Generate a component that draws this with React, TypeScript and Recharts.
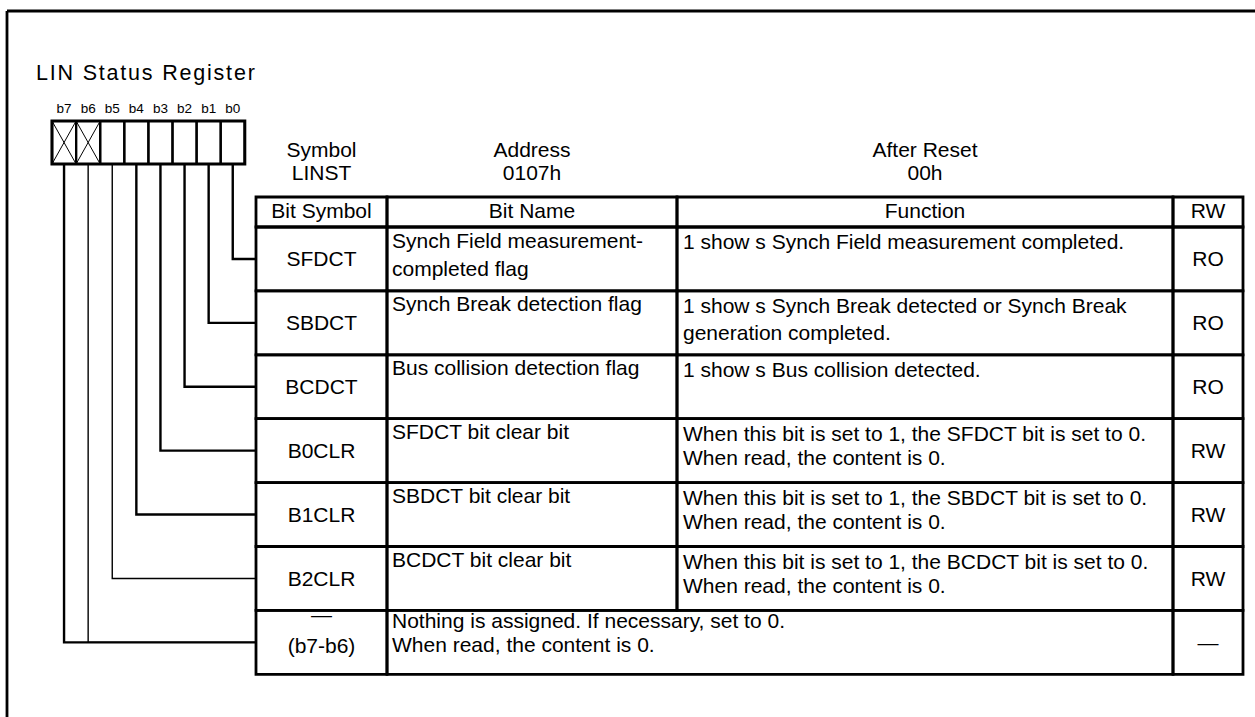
import {
  ReferenceArea,
  ReferenceLine,
  Scatter,
  ScatterChart,
  XAxis,
  YAxis,
} from "recharts";

const title = "LIN Status Register";
const bitLabels = ["b7", "b6", "b5", "b4", "b3", "b2", "b1", "b0"];
const reservedBits = ["b7", "b6"];
const headerTitles = ["Symbol", "Address", "After Reset"];
const headerValues = ["LINST", "0107h", "00h"];
const columnHeads = ["Bit Symbol", "Bit Name", "Function", "RW"];
const bitSymbols = [
  ["SFDCT"],
  ["SBDCT"],
  ["BCDCT"],
  ["B0CLR"],
  ["B1CLR"],
  ["B2CLR"],
  ["\u2014", "(b7-b6)"],
];
const bitNames = [
  ["Synch Field measurement-", "completed flag"],
  ["Synch Break detection flag"],
  ["Bus collision detection flag"],
  ["SFDCT bit clear bit"],
  ["SBDCT bit clear bit"],
  ["BCDCT bit clear bit"],
  [],
];
const functions = [
  ["1 show s Synch Field measurement completed."],
  ["1 show s Synch Break detected or Synch Break", "generation completed."],
  ["1 show s Bus collision detected."],
  ["When this bit is set to 1, the SFDCT bit is set to 0.", "When read, the content is 0."],
  ["When this bit is set to 1, the SBDCT bit is set to 0.", "When read, the content is 0."],
  ["When this bit is set to 1, the BCDCT bit is set to 0.", "When read, the content is 0."],
  ["Nothing is assigned. If necessary, set to 0.", "When read, the content is 0."],
];
const access = ["RO", "RO", "RO", "RW", "RW", "RW", "\u2014"];
const rowBits = [["b0"], ["b1"], ["b2"], ["b3"], ["b4"], ["b5"], ["b6", "b7"]];

// layout, in pixels of the picture
const W = 1255;
const H = 717;
const FONT = '"Liberation Sans", Arial, Helvetica, sans-serif';
const FRAME_LEFT = 7;
const FRAME_TOP = 11;
const BOX_LEFT = 52;
const BOX_TOP = 121;
const BOX_BOTTOM = 164;
const BOX_W = 24.1;
const COL_X = [256, 387, 677, 1173, 1243];
const TABLE_TOP = 197;
const HEAD_BOTTOM = 227;
const ROW_H = 63.9;
const BODY = 21;
const RULE = 2.8;
const thinBits = ["b6", "b5"];

const rowTop = (i: number) => HEAD_BOTTOM + i * ROW_H;
const rowMid = (i: number) => rowTop(i) + ROW_H / 2;
const colMid = (c: number) => (COL_X[c] + COL_X[c + 1]) / 2;
const bitIndex = (b: string) => bitLabels.indexOf(b);
const bitX = (b: string) => BOX_LEFT + (bitIndex(b) + 0.5) * BOX_W;

type TextItem = {
  x: number;
  y: number;
  text: string;
  anchor: "start" | "middle";
  size: number;
  spacing?: number;
};

const texts: TextItem[] = [];
texts.push({ x: 36, y: 80, text: title, anchor: "start", size: 21.5, spacing: 1.8 });
bitLabels.forEach((b) =>
  texts.push({ x: bitX(b), y: 113, text: b, anchor: "middle", size: 13.5 })
);
headerTitles.forEach((t, c) => {
  texts.push({ x: colMid(c), y: 157, text: t, anchor: "middle", size: BODY });
  texts.push({ x: colMid(c), y: 180, text: headerValues[c], anchor: "middle", size: BODY });
});
columnHeads.forEach((t, c) =>
  texts.push({ x: colMid(c), y: 218, text: t, anchor: "middle", size: BODY })
);

type Cell = { x1: number; x2: number; y1: number; y2: number };
const cells: Cell[] = columnHeads.map((_, c) => ({
  x1: COL_X[c],
  x2: COL_X[c + 1],
  y1: TABLE_TOP,
  y2: HEAD_BOTTOM,
}));

bitSymbols.forEach((sym, i) => {
  const top = rowTop(i);
  const bottom = rowTop(i + 1);
  const merged = bitNames[i].length === 0;
  const firstBase = top + (merged ? 18 : 22);
  const gap = i < 3 ? 27 : 24;

  sym.forEach((s, k) =>
    texts.push({
      x: colMid(0),
      y: sym.length === 1 ? rowMid(i) + 7.5 : top + 12 + k * 30.5,
      text: s,
      anchor: "middle",
      size: BODY,
    })
  );
  bitNames[i].forEach((s, k) =>
    texts.push({ x: COL_X[1] + 5, y: top + 20.5 + k * 28, text: s, anchor: "start", size: BODY })
  );
  const fx = merged ? COL_X[1] + 5 : COL_X[2] + 6;
  functions[i].forEach((s, k) =>
    texts.push({ x: fx, y: firstBase + k * gap, text: s, anchor: "start", size: BODY })
  );
  texts.push({ x: colMid(3), y: rowMid(i) + 7.5, text: access[i], anchor: "middle", size: BODY });

  cells.push({ x1: COL_X[0], x2: COL_X[1], y1: top, y2: bottom });
  if (merged) {
    cells.push({ x1: COL_X[1], x2: COL_X[3], y1: top, y2: bottom });
  } else {
    cells.push({ x1: COL_X[1], x2: COL_X[2], y1: top, y2: bottom });
    cells.push({ x1: COL_X[2], x2: COL_X[3], y1: top, y2: bottom });
  }
  cells.push({ x1: COL_X[3], x2: COL_X[4], y1: top, y2: bottom });
});

// leader lines: from the bit box down to the row, then across to the table
const leaders = rowBits.flatMap((bits, i) =>
  bits.map((b) => ({
    bit: b,
    points: [
      { x: bitX(b), y: BOX_BOTTOM },
      { x: bitX(b), y: rowMid(i) },
      { x: COL_X[0], y: rowMid(i) },
    ],
  }))
);

function TextMark(props: any) {
  const { cx, cy, payload } = props;
  return (
    <text
      x={cx}
      y={cy}
      textAnchor={payload.anchor}
      fontSize={payload.size}
      fontFamily={FONT}
      letterSpacing={payload.spacing ?? 0}
      fill="#000"
    >
      {payload.text}
    </text>
  );
}

const noMark = () => <g />;

export default function App() {
  return (
    <div
      style={{
        position: "absolute",
        left: 0,
        top: 0,
        width: W,
        height: H,
        background: "#fff",
        overflow: "hidden",
      }}
    >
      <ScatterChart width={W} height={H} margin={{ top: 0, right: 0, bottom: 0, left: 0 }}>
        <XAxis type="number" dataKey="x" domain={[0, W]} allowDataOverflow hide />
        <YAxis type="number" dataKey="y" domain={[0, H]} allowDataOverflow reversed hide />

        <ReferenceLine
          segment={[{ x: FRAME_LEFT, y: FRAME_TOP }, { x: W, y: FRAME_TOP }]}
          stroke="#000"
          strokeWidth={RULE}
          ifOverflow="visible"
        />
        <ReferenceLine
          segment={[{ x: FRAME_LEFT, y: FRAME_TOP }, { x: FRAME_LEFT, y: H }]}
          stroke="#000"
          strokeWidth={RULE}
          ifOverflow="visible"
        />

        {bitLabels.map((b) => (
          <ReferenceArea
            key={`box-${b}`}
            x1={BOX_LEFT + bitIndex(b) * BOX_W}
            x2={BOX_LEFT + (bitIndex(b) + 1) * BOX_W}
            y1={BOX_TOP}
            y2={BOX_BOTTOM}
            fill="none"
            fillOpacity={0}
            stroke="#000"
            strokeWidth={2.2}
            ifOverflow="visible"
          />
        ))}
        <ReferenceArea
          x1={BOX_LEFT}
          x2={BOX_LEFT + bitLabels.length * BOX_W}
          y1={BOX_TOP}
          y2={BOX_BOTTOM}
          fill="none"
          fillOpacity={0}
          stroke="#000"
          strokeWidth={3}
          ifOverflow="visible"
        />
        {reservedBits.flatMap((b) => {
          const x1 = BOX_LEFT + bitIndex(b) * BOX_W;
          const x2 = x1 + BOX_W;
          return [
            <ReferenceLine
              key={`xa-${b}`}
              segment={[{ x: x1, y: BOX_TOP }, { x: x2, y: BOX_BOTTOM }]}
              stroke="#000"
              strokeWidth={1}
              ifOverflow="visible"
            />,
            <ReferenceLine
              key={`xb-${b}`}
              segment={[{ x: x1, y: BOX_BOTTOM }, { x: x2, y: BOX_TOP }]}
              stroke="#000"
              strokeWidth={1}
              ifOverflow="visible"
            />,
          ];
        })}

        {cells.map((c, i) => (
          <ReferenceArea
            key={`cell-${i}`}
            x1={c.x1}
            x2={c.x2}
            y1={c.y1}
            y2={c.y2}
            fill="none"
            fillOpacity={0}
            stroke="#000"
            strokeWidth={RULE}
            ifOverflow="visible"
          />
        ))}

        {leaders.map((l) => (
          <Scatter
            key={`lead-${l.bit}`}
            data={l.points}
            fill="#000"
            line={{ stroke: "#000", strokeWidth: thinBits.includes(l.bit) ? 1.4 : 2.4 }}
            lineType="joint"
            shape={noMark}
            isAnimationActive={false}
          />
        ))}

        <Scatter data={texts} shape={TextMark} isAnimationActive={false} />
      </ScatterChart>
    </div>
  );
}
